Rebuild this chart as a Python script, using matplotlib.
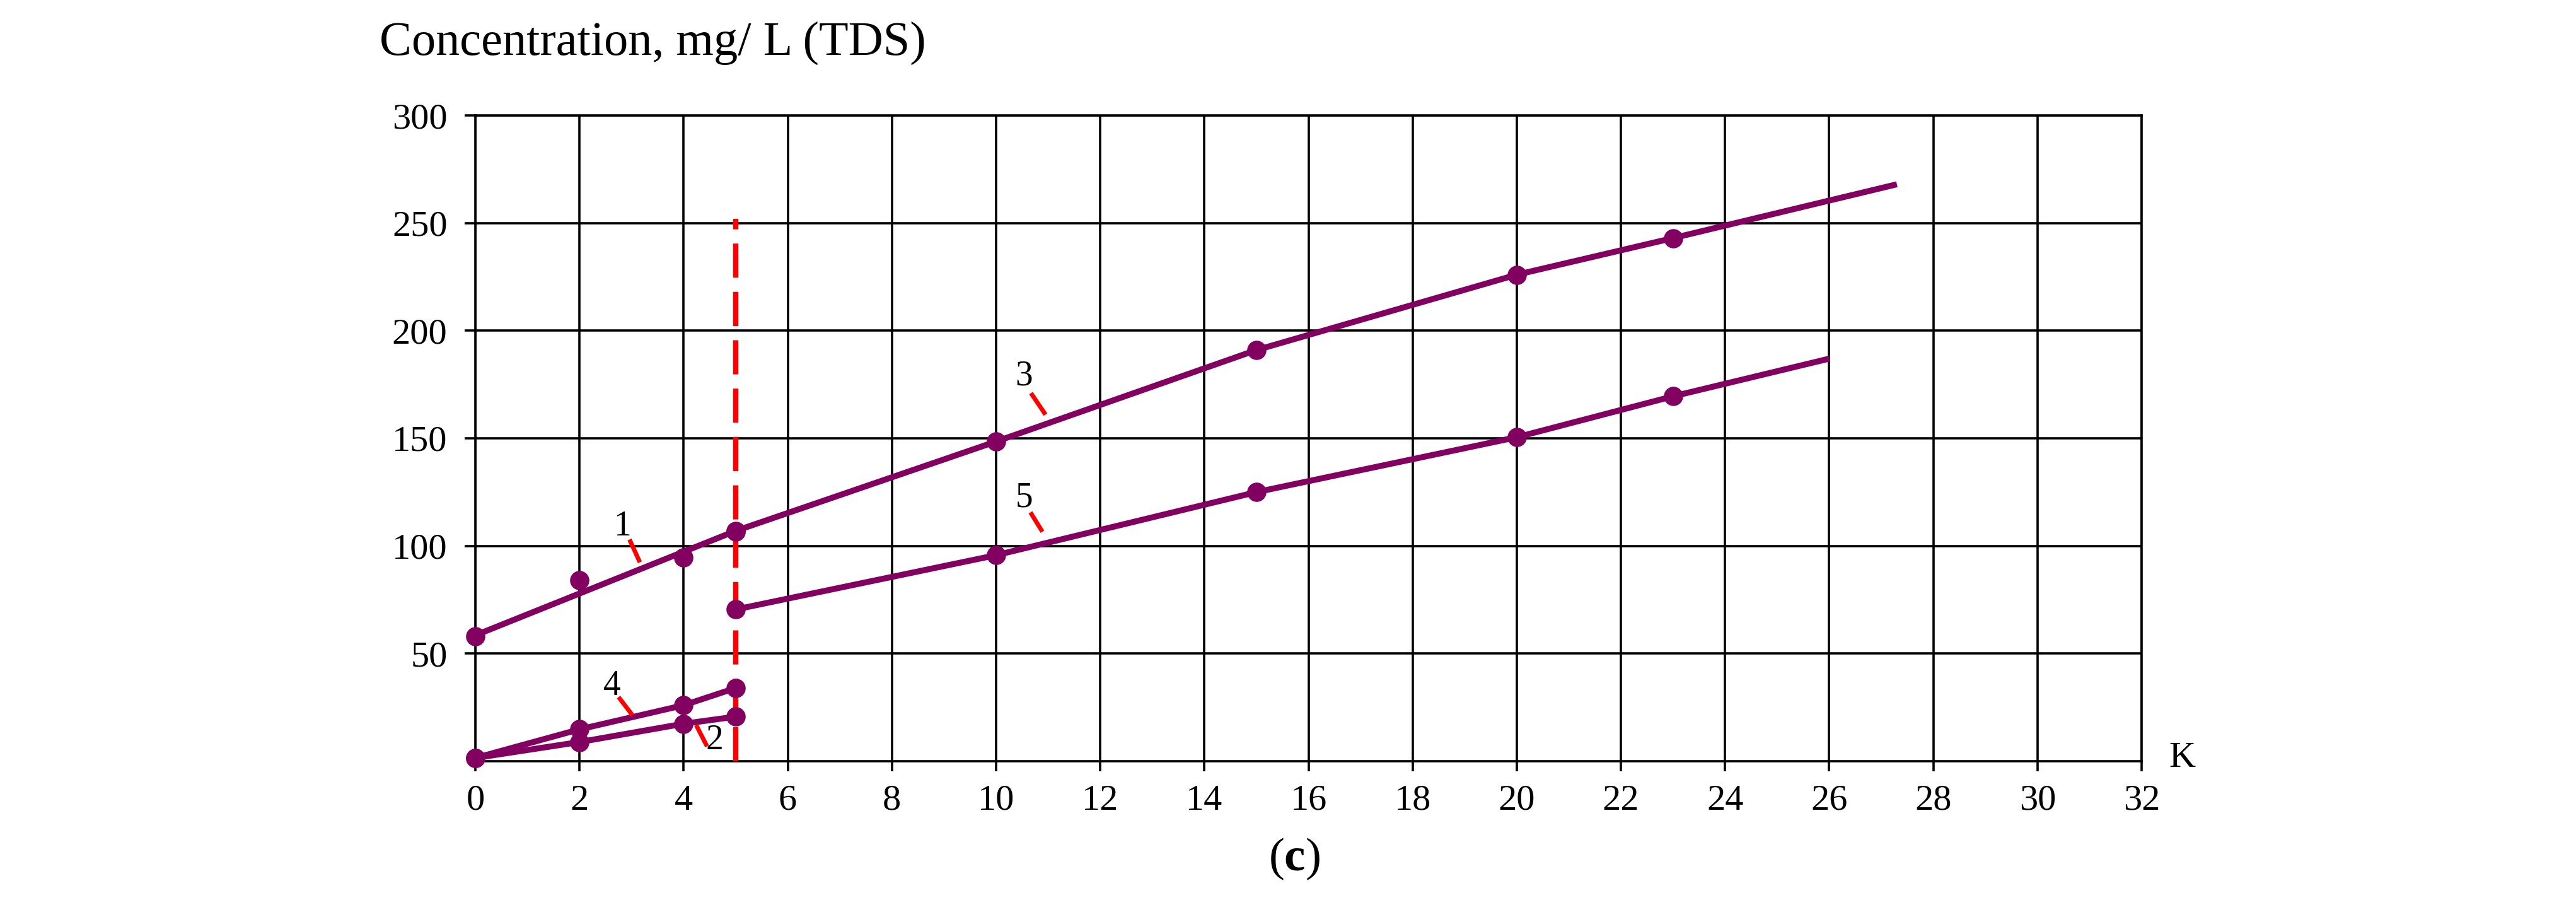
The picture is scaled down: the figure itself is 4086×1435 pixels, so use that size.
import matplotlib
matplotlib.use("Agg")
import matplotlib.pyplot as plt

# ---------------- data ----------------
# curve 1 (before the boundary K = 5): measured points and fitted line
k_curve1 = [0, 2, 4, 5]
c_curve1 = [58, 84, 94.5, 106.5]
k_curve1_line = [0, 5]
c_curve1_line = [58.5, 107]

# curve 3 (after the boundary); the last point is the end of the drawn line
k_curve3 = [5, 10, 15, 20, 23, 27.3]
c_curve3 = [107, 148.5, 191, 226, 243, 268]

# curve 5; the last point is the end of the drawn line
k_curve5 = [5, 10, 15, 20, 23, 26]
c_curve5 = [70.5, 95.7, 125, 150.5, 169.5, 187]

# curves 4 and 2 (small concentrations)
k_curve4 = [0, 2, 4, 5]
c_curve4 = [1.5, 14.8, 26, 34]
k_curve2 = [0, 2, 4, 5]
c_curve2 = [1.5, 8.9, 17.4, 20.7]

# red dashed boundary
boundary_k = [5, 5]
boundary_c = [0, 252]

x_ticks = list(range(0, 33, 2))
y_ticks = [50, 100, 150, 200, 250, 300]

curve_names = ["1", "2", "3", "4", "5"]

# ---------------- style ----------------
PURPLE = "#82005f"
RED = "#ff0000"
plt.rcParams["font.family"] = ["Liberation Serif", "DejaVu Serif"]
plt.rcParams["mathtext.fontset"] = "custom"
plt.rcParams["mathtext.rm"] = "Liberation Serif"
plt.rcParams["mathtext.bf"] = "Liberation Serif:bold"

fig = plt.figure(figsize=(40.86, 14.35), dpi=100)
ax = fig.add_axes([0.18453, 0.15889, 0.64685, 0.71358])

LW = 6.8
MS = 21

# red dashed boundary (below the purple curves)
ax.plot(boundary_k, boundary_c, color=RED, lw=6, dashes=(6.5, 2.7), zorder=3)

# curve 1
ax.plot(k_curve1_line, c_curve1_line, color=PURPLE, lw=LW, zorder=4,
        solid_capstyle="butt")
ax.plot(k_curve1, c_curve1, "o", color=PURPLE, ms=MS, zorder=5, clip_on=False)

# curve 3 and 5: line through points, markers on all but the line end
for kk, cc in [(k_curve3, c_curve3), (k_curve5, c_curve5)]:
    ax.plot(kk, cc, "-o", color=PURPLE, lw=LW, ms=MS,
            markevery=list(range(len(kk) - 1)), zorder=4,
            solid_capstyle="butt")

# curves 4 and 2
for kk, cc in [(k_curve4, c_curve4), (k_curve2, c_curve2)]:
    ax.plot(kk, cc, "-o", color=PURPLE, lw=LW, ms=MS, zorder=4,
            clip_on=False)

# curve number labels with red leaders (positions in data units)
label_pos = {"1": (2.82, 109), "4": (2.63, 35), "2": (4.59, 9.6),
             "3": (10.54, 179), "5": (10.54, 122.3)}
leaders = {"1": ((2.96, 103), (3.16, 92.4)),
           "4": ((2.75, 29.8), (3.02, 21.3)),
           "2": ((4.24, 16.8), (4.45, 6.9)),
           "3": ((10.67, 171), (10.95, 161)),
           "5": ((10.66, 115.6), (10.89, 106.6))}
for name in curve_names:
    x, y = label_pos[name]
    ax.text(x, y, name, fontsize=40, ha="center", va="center", zorder=6)
    (x0, y0), (x1, y1) = leaders[name]
    ax.plot([x0, x1], [y0, y1], color=RED, lw=5, zorder=6,
            solid_capstyle="butt")

# axes
ax.set_xlim(0, 32)
ax.set_ylim(0, 300)
ax.set_xticks(x_ticks)
ax.set_yticks(y_ticks)
ax.set_xticklabels([str(t) for t in x_ticks])
ax.set_yticklabels([str(t) for t in y_ticks])
ax.grid(True, color="black", lw=2.6, zorder=1)
ax.set_axisbelow(True)
for sp in ax.spines.values():
    sp.set_color("black")
    sp.set_linewidth(2.6)
ax.tick_params(axis="x", direction="out", length=11.5, width=2.6,
               labelsize=42, pad=15)
ax.tick_params(axis="y", direction="out", length=12, width=2.6,
               labelsize=42, pad=20)

# texts
fig.text(0.1473, 0.9394, "Concentration, mg/ L (TDS)", fontsize=55,
         ha="left", va="baseline")
fig.text(0.8419, 0.1526, "K", fontsize=42, ha="left", va="baseline")
fig.text(0.5025, 0.038, r"($\mathbf{c}$)", fontsize=54, ha="center",
         va="baseline")

fig.savefig("out.png", dpi=100, facecolor="white")
